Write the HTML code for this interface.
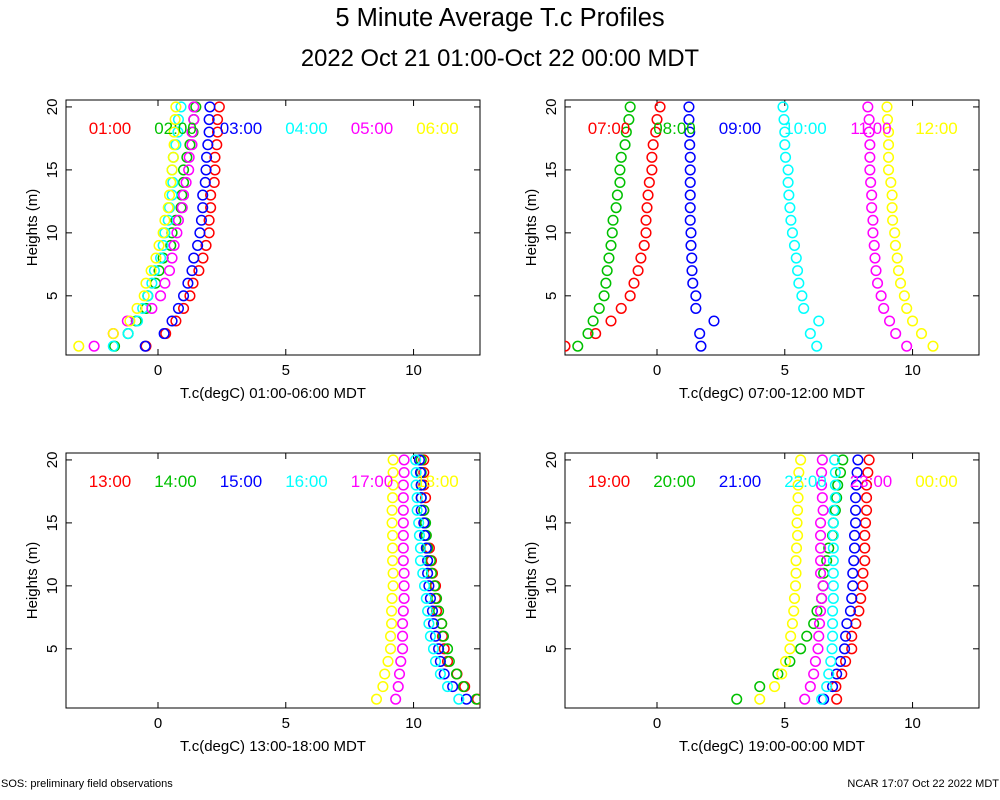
<!DOCTYPE html>
<html><head><meta charset="utf-8"><style>
body{margin:0;background:#fff;}
svg{display:block;font-family:"Liberation Sans",sans-serif;}
</style></head><body>
<svg id="chart" width="1000" height="800" viewBox="0 0 1000 800" xmlns="http://www.w3.org/2000/svg">
<rect width="1000" height="800" fill="#fff"/>
<text x="500" y="26" font-size="25.5" text-anchor="middle">5 Minute Average T.c Profiles</text>
<text x="500" y="66" font-size="23.8" text-anchor="middle">2022 Oct 21 01:00-Oct 22 00:00 MDT</text>
<text x="1" y="787" font-size="11">SOS: preliminary field observations</text>
<text x="999" y="787" font-size="11" text-anchor="end">NCAR 17:07 Oct 22 2022 MDT</text>
</svg>
<script>
const heights = [1,2,3,4,5,6,7,8,9,10,11,12,13,14,15,16,17,18,19,20];
const xTicks = [0,5,10];
const yTicks = [5,10,15,20];
const colors = ["#ff0000","#00c000","#0000ff","#00ffff","#ff00ff","#ffff00"];
const labels1 = ["01:00","02:00","03:00","04:00","05:00","06:00"];
const labels2 = ["07:00","08:00","09:00","10:00","11:00","12:00"];
const labels3 = ["13:00","14:00","15:00","16:00","17:00","18:00"];
const labels4 = ["19:00","20:00","21:00","22:00","23:00","00:00"];
const p1s1 = [-0.47,0.3,0.7,1.0,1.25,1.37,1.6,1.76,1.88,2.0,2.0,2.06,2.06,2.2,2.23,2.23,2.3,2.33,2.33,2.4];
const p1s2 = [-1.7,-1.17,-0.85,-0.47,-0.4,-0.1,0.04,0.2,0.5,0.55,0.7,0.9,0.93,1.0,1.0,1.13,1.25,1.37,1.4,1.48];
const p1s3 = [-0.5,0.24,0.55,0.8,1.0,1.17,1.33,1.4,1.55,1.64,1.7,1.75,1.75,1.85,1.88,1.9,1.95,2.0,2.0,2.03];
const p1s4 = [-1.75,-1.17,-0.8,-0.6,-0.4,-0.24,-0.14,0.1,0.2,0.27,0.4,0.45,0.55,0.58,0.55,0.6,0.7,0.78,0.8,0.9];
const p1s5 = [-2.5,-1.75,-1.2,-0.24,0.1,0.27,0.45,0.55,0.63,0.74,0.8,0.95,1.0,1.1,1.2,1.22,1.33,1.33,1.4,1.4];
const p1s6 = [-3.1,-1.75,-1.1,-0.82,-0.54,-0.47,-0.27,-0.08,0.04,0.2,0.27,0.4,0.45,0.5,0.55,0.6,0.63,0.63,0.67,0.7];
const p2s1 = [-3.6,-2.4,-1.8,-1.4,-1.05,-0.9,-0.74,-0.63,-0.5,-0.43,-0.43,-0.39,-0.35,-0.3,-0.2,-0.2,-0.15,-0.05,0,0.12];
const p2s2 = [-3.1,-2.7,-2.5,-2.26,-2.07,-2.0,-1.95,-1.88,-1.8,-1.75,-1.72,-1.6,-1.55,-1.45,-1.45,-1.4,-1.25,-1.2,-1.1,-1.05];
const p2s3 = [1.72,1.67,2.23,1.52,1.52,1.4,1.37,1.36,1.33,1.33,1.3,1.3,1.3,1.3,1.3,1.3,1.28,1.28,1.25,1.25];
const p2s4 = [6.25,6.0,6.33,5.74,5.67,5.55,5.5,5.45,5.38,5.3,5.24,5.2,5.16,5.13,5.13,5.03,5.0,5.0,4.97,4.93];
const p2s5 = [9.77,9.34,9.1,8.87,8.77,8.63,8.57,8.53,8.5,8.45,8.45,8.4,8.4,8.36,8.33,8.33,8.33,8.3,8.3,8.25];
const p2s6 = [10.8,10.35,10.0,9.77,9.68,9.53,9.45,9.4,9.33,9.3,9.22,9.2,9.2,9.15,9.06,9.06,9.06,9.06,9.02,9.0];
const p3s1 = [12.5,12.0,11.7,11.33,11.2,11.13,11.1,10.9,10.86,10.86,10.74,10.7,10.62,10.47,10.43,10.4,10.47,10.4,10.4,10.4];
const p3s2 = [12.46,11.95,11.68,11.4,11.33,11.17,11.1,10.98,10.9,10.82,10.7,10.66,10.55,10.5,10.47,10.4,10.3,10.3,10.3,10.3];
const p3s3 = [12.07,11.53,11.2,11.05,10.98,10.86,10.78,10.74,10.66,10.6,10.55,10.55,10.5,10.43,10.4,10.3,10.3,10.3,10.27,10.23];
const p3s4 = [11.77,11.33,11.05,10.86,10.78,10.66,10.6,10.55,10.5,10.43,10.36,10.27,10.27,10.23,10.2,10.14,10.14,10.1,10.1,10.08];
const p3s5 = [9.3,9.4,9.45,9.5,9.57,9.57,9.57,9.6,9.63,9.63,9.63,9.6,9.6,9.6,9.6,9.6,9.6,9.6,9.63,9.63];
const p3s6 = [8.55,8.8,8.87,9.0,9.1,9.1,9.14,9.14,9.16,9.2,9.2,9.18,9.18,9.18,9.16,9.16,9.18,9.2,9.2,9.2];
const p4s1 = [7.03,7.0,7.23,7.38,7.62,7.62,7.78,7.9,7.97,8.05,8.06,8.13,8.13,8.13,8.16,8.2,8.2,8.2,8.25,8.3];
const p4s2 = [3.12,4.02,4.73,5.2,5.62,5.86,6.13,6.26,6.44,6.5,6.52,6.64,6.72,6.87,6.9,6.98,7.03,7.07,7.18,7.27];
const p4s3 = [6.52,6.87,7.03,7.18,7.34,7.38,7.43,7.57,7.62,7.66,7.66,7.7,7.73,7.73,7.77,7.77,7.77,7.8,7.83,7.86];
const p4s4 = [6.44,6.64,6.72,6.8,6.85,6.87,6.87,6.87,6.9,6.9,6.9,6.9,6.9,6.9,6.9,6.92,6.98,6.98,6.98,6.95];
const p4s5 = [5.78,6.0,6.13,6.2,6.3,6.33,6.36,6.4,6.44,6.5,6.4,6.4,6.4,6.4,6.4,6.5,6.47,6.44,6.44,6.47];
const p4s6 = [4.02,4.6,4.88,5.03,5.2,5.23,5.3,5.35,5.38,5.42,5.44,5.44,5.46,5.5,5.48,5.5,5.52,5.52,5.55,5.62];

const NS = "http://www.w3.org/2000/svg";
const svg = document.getElementById('chart');
const XMIN = -3.6, XMAX = 12.6, YMIN = 0.3, YMAX = 20.55, PW = 414, PH = 255;
function mk(tag, attrs, parent){const e=document.createElementNS(NS,tag);for(const k in attrs)e.setAttribute(k,attrs[k]);(parent||svg).appendChild(e);return e;}
const panels = [
  {x:66,y:100,labels:labels1,series:[p1s1,p1s2,p1s3,p1s4,p1s5,p1s6],title:"T.c(degC) 01:00-06:00 MDT",id:"1"},
  {x:565,y:100,labels:labels2,series:[p2s1,p2s2,p2s3,p2s4,p2s5,p2s6],title:"T.c(degC) 07:00-12:00 MDT",id:"2"},
  {x:66,y:453,labels:labels3,series:[p3s1,p3s2,p3s3,p3s4,p3s5,p3s6],title:"T.c(degC) 13:00-18:00 MDT",id:"3"},
  {x:565,y:453,labels:labels4,series:[p4s1,p4s2,p4s3,p4s4,p4s5,p4s6],title:"T.c(degC) 19:00-00:00 MDT",id:"4"}
];
panels.forEach(p=>{
  const g = mk('g',{});
  
  
  const sx = v => p.x + (v-XMIN)/(XMAX-XMIN)*PW;
  const sy = v => p.y + PH - (v-YMIN)/(YMAX-YMIN)*PH;
  const clip = mk('clipPath',{id:'clip'+p.id},g);
  mk('rect',{x:p.x,y:p.y,width:PW,height:PH},clip);
  const frame = mk('rect',{x:p.x,y:p.y,width:PW,height:PH,fill:'none',stroke:'#000','stroke-width':1},g);
  
  
  xTicks.forEach(t=>{
    const X=sx(t);
    mk('line',{x1:X,x2:X,y1:p.y+PH,y2:p.y+PH-6,stroke:'#000'},g);
    mk('line',{x1:X,x2:X,y1:p.y,y2:p.y+6,stroke:'#000'},g);
    const tl = mk('text',{x:X,y:p.y+PH+20,'font-size':15,'text-anchor':'middle'},g);
    tl.textContent=t;
    
    
  });
  yTicks.forEach(t=>{
    const Y=sy(t);
    mk('line',{x1:p.x,x2:p.x+6,y1:Y,y2:Y,stroke:'#000'},g);
    mk('line',{x1:p.x+PW,x2:p.x+PW-6,y1:Y,y2:Y,stroke:'#000'},g);
    const tl = mk('text',{x:0,y:0,'font-size':15,'text-anchor':'middle',transform:`translate(${p.x-9},${Y}) rotate(-90)`},g);
    tl.textContent=t;
    
    
  });
  const xt = mk('text',{x:p.x+PW/2,y:p.y+PH+43,'font-size':15,'text-anchor':'middle'},g);
  xt.textContent=p.title;
  
  
  const yt = mk('text',{x:0,y:0,'font-size':15,'text-anchor':'middle',transform:`translate(${p.x-29},${p.y+PH/2}) rotate(-90)`},g);
  yt.textContent='Heights (m)';
  
  
  const pg = mk('g',{'clip-path':`url(#clip${p.id})`},g);
  p.series.forEach((s,i)=>{
    const sg = mk('g',{},pg);
    
    
    s.forEach((v,j)=>{
      const c = mk('circle',{cx:sx(v),cy:sy(heights[j]),r:4.8,fill:'none',stroke:colors[i],'stroke-width':1.5},sg);
      
      
    });
  });
  p.labels.forEach((l,i)=>{
    const t = mk('text',{x:p.x+44+i*65.5,y:p.y+34,'font-size':17,'text-anchor':'middle',fill:colors[i]},g);
    t.textContent=l;
    
    
  });
});
</script>
</body></html>
